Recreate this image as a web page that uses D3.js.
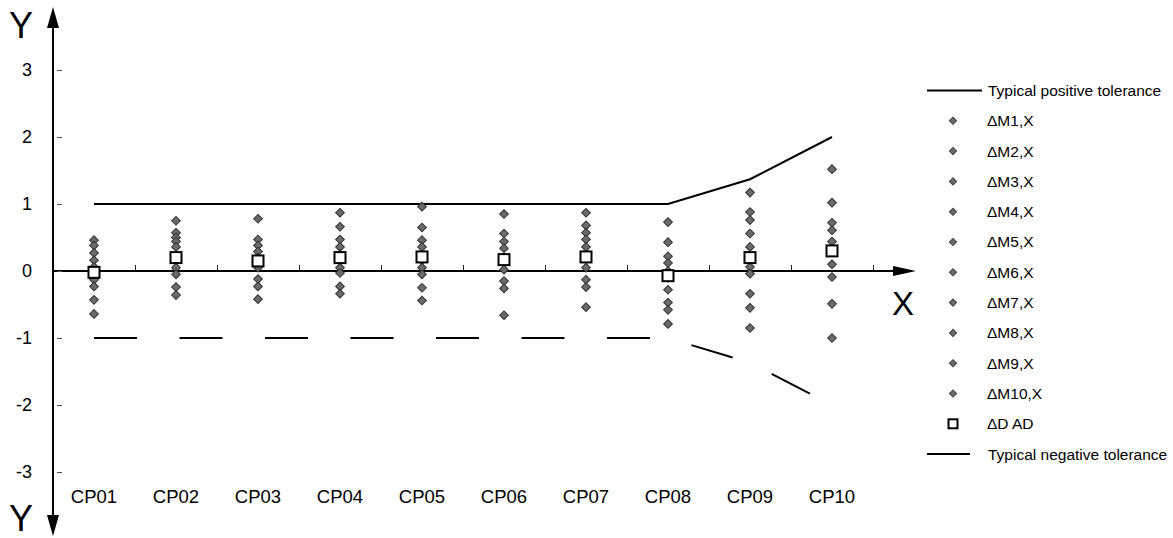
<!DOCTYPE html>
<html>
<head>
<meta charset="utf-8">
<script src="https://cdn.jsdelivr.net/npm/d3@7"></script>
<style>
  html, body { margin: 0; padding: 0; background: #fff; }
  svg { display: block; font-family: "Liberation Sans", Arial, sans-serif; }
</style>
</head>
<body>
<svg id="chart" width="1173" height="538"></svg>
<script>
// ---- data ----
const categories = ["CP01","CP02","CP03","CP04","CP05","CP06","CP07","CP08","CP09","CP10"];

// deviations of the ten measurements per control point (one array per series)
const dM1  = [ 0.46,  0.75,  0.78,  0.87,  0.96,  0.85,  0.87,  0.73,  1.17,  1.52];
const dM2  = [ 0.38,  0.57,  0.47,  0.66,  0.65,  0.56,  0.68,  0.43,  0.88,  1.02];
const dM3  = [ 0.27,  0.50,  0.38,  0.47,  0.46,  0.44,  0.57,  0.22,  0.76,  0.72];
const dM4  = [ 0.16,  0.44,  0.29,  0.36,  0.36,  0.34,  0.47,  0.12,  0.56,  0.61];
const dM5  = [ 0.06,  0.36,  0.20,  0.25,  0.24,  0.20,  0.36,  0.00,  0.36,  0.44];
const dM6  = [-0.10,  0.20,  0.12,  0.15,  0.16,  0.12,  0.20, -0.10,  0.06,  0.30];
const dM7  = [-0.13,  0.05,  0.05,  0.05,  0.05,  0.02,  0.05, -0.28, -0.04,  0.10];
const dM8  = [-0.23, -0.05, -0.12, -0.03, -0.05, -0.15, -0.13, -0.47, -0.34, -0.09];
const dM9  = [-0.43, -0.24, -0.23, -0.23, -0.25, -0.26, -0.24, -0.58, -0.55, -0.49];
const dM10 = [-0.64, -0.36, -0.42, -0.34, -0.44, -0.66, -0.54, -0.79, -0.85, -1.00];

// average deviation per control point
const dAD  = [-0.02,  0.20,  0.15,  0.20,  0.21,  0.17,  0.21, -0.07,  0.20,  0.30];

// tolerance band
const posTol = [1, 1, 1, 1, 1, 1, 1, 1, 1.37, 2.0];
const negTol = [-1, -1, -1, -1, -1, -1, -1, -1, -1.37, -2.0];

const yTicks = [-3, -2, -1, 0, 1, 2, 3];

const seriesNames = ["\u0394M1,X","\u0394M2,X","\u0394M3,X","\u0394M4,X","\u0394M5,X",
                     "\u0394M6,X","\u0394M7,X","\u0394M8,X","\u0394M9,X","\u0394M10,X"];
const measSeries = [dM1, dM2, dM3, dM4, dM5, dM6, dM7, dM8, dM9, dM10];

// ---- layout ----
const svg = d3.select("#chart");
const axisX = 53;      // position of the vertical axis
const plotRight = 873; // end of the last category band

const x = d3.scaleBand().domain(categories).range([axisX, plotRight]).paddingInner(0).paddingOuter(0);
const y = d3.scaleLinear().domain([-3, 3]).range([472, 70]);
const cx = c => x(c) + x.bandwidth() / 2;

// ---- axes ----
// category separators on the zero line
const xBound = d3.scaleLinear().domain([0, categories.length]).range([axisX, plotRight]);
svg.append("g")
  .attr("transform", `translate(0,${y(0)})`)
  .call(d3.axisTop(xBound).tickValues(d3.range(1, categories.length + 1)).tickSize(6).tickFormat(""))
  .call(g => g.select(".domain").remove())
  .call(g => g.selectAll(".tick line").attr("stroke", "#222").attr("stroke-width", 1));

// zero line with arrow
svg.append("line")
  .attr("x1", axisX).attr("x2", 895).attr("y1", y(0)).attr("y2", y(0))
  .attr("stroke", "#000").attr("stroke-width", 2);
svg.append("path")
  .attr("d", `M916,${y(0)} L893,${y(0) - 5} L893,${y(0) + 5} Z`)
  .attr("fill", "#000");

// category labels
svg.append("g")
  .attr("transform", `translate(0,490)`)
  .call(d3.axisBottom(x).tickSize(0).tickPadding(0))
  .call(g => g.select(".domain").remove())
  .call(g => g.selectAll("text")
      .attr("font-family", "Liberation Sans, Arial, sans-serif")
      .attr("font-size", 18.5).attr("fill", "#000").attr("dy", "0.71em"));

// vertical axis with arrows at both ends
svg.append("line")
  .attr("x1", axisX).attr("x2", axisX).attr("y1", 25).attr("y2", 518)
  .attr("stroke", "#000").attr("stroke-width", 2);
svg.append("path").attr("d", `M${axisX},7 L${axisX - 6},28 L${axisX + 6},28 Z`).attr("fill", "#000");
svg.append("path").attr("d", `M${axisX},536 L${axisX - 6},515 L${axisX + 6},515 Z`).attr("fill", "#000");

// small tick dashes to the right of the axis
svg.append("g")
  .attr("transform", `translate(${axisX + 4},0)`)
  .call(d3.axisRight(y).tickValues(yTicks).tickSize(5).tickFormat(""))
  .call(g => g.select(".domain").remove())
  .call(g => g.selectAll(".tick line").attr("stroke", "#555").attr("stroke-width", 1));

// tick numbers (plain hyphen for negatives)
svg.append("g")
  .attr("transform", `translate(32,0)`)
  .call(d3.axisLeft(y).tickValues(yTicks).tickSize(0).tickPadding(0).tickFormat(d => String(d)))
  .call(g => g.select(".domain").remove())
  .call(g => g.selectAll("text")
      .attr("font-family", "Liberation Sans, Arial, sans-serif")
      .attr("font-size", 18).attr("fill", "#000"));

// axis names
svg.append("text").attr("x", 21).attr("y", 37.5).attr("text-anchor", "middle")
  .attr("font-size", 36).text("Y");
svg.append("text").attr("x", 21).attr("y", 531).attr("text-anchor", "middle")
  .attr("font-size", 36).text("Y");
svg.append("text").attr("x", 903).attr("y", 315).attr("text-anchor", "middle")
  .attr("font-size", 33).text("X");

// ---- tolerance lines ----
const tolLine = d3.line().x((d, i) => cx(categories[i])).y(d => y(d));
svg.append("path").datum(posTol)
  .attr("d", tolLine).attr("fill", "none")
  .attr("stroke", "#000").attr("stroke-width", 2);
svg.append("path").datum(negTol)
  .attr("d", tolLine).attr("fill", "none")
  .attr("stroke", "#000").attr("stroke-width", 2)
  .attr("stroke-dasharray", "43,42.5");

// ---- measurement markers ----
const diamondPath = d3.symbol().type(d3.symbolSquare).size(38)();

const pts = [];
measSeries.forEach((s, si) => s.forEach((v, i) => pts.push({ s: si, c: categories[i], v })));

svg.append("g").selectAll("path")
  .data(pts)
  .join("path")
  .attr("d", diamondPath)
  .attr("transform", d => `translate(${cx(d.c)},${y(d.v)}) rotate(45)`)
  .attr("fill", "#6a6a6a").attr("stroke", "#333").attr("stroke-width", 1);

// average markers
svg.append("g").selectAll("rect")
  .data(dAD.map((v, i) => ({ c: categories[i], v })))
  .join("rect")
  .attr("x", d => cx(d.c) - 5.5).attr("y", d => y(d.v) - 5.5)
  .attr("width", 11).attr("height", 11)
  .attr("fill", "#fff").attr("stroke", "#000").attr("stroke-width", 2);

// ---- legend ----
const legend = svg.append("g")
  .attr("font-family", "Liberation Sans, Arial, sans-serif")
  .attr("font-size", 15.5);
const rowY = i => 90.5 + i * 30.3;

legend.append("line").attr("x1", 927).attr("x2", 982).attr("y1", rowY(0)).attr("y2", rowY(0))
  .attr("stroke", "#000").attr("stroke-width", 2);
legend.append("text").attr("x", 988).attr("y", rowY(0)).attr("dy", "0.35em")
  .text("Typical positive tolerance");

const legPath = d3.symbol().type(d3.symbolSquare).size(26)();
seriesNames.forEach((name, i) => {
  legend.append("path").attr("d", legPath)
    .attr("transform", `translate(953,${rowY(i + 1)}) rotate(45)`)
    .attr("fill", "#6a6a6a").attr("stroke", "#444").attr("stroke-width", 1);
  legend.append("text").attr("x", 987).attr("y", rowY(i + 1)).attr("dy", "0.35em").text(name);
});

legend.append("rect").attr("x", 948.5).attr("y", rowY(11) - 4.5).attr("width", 9).attr("height", 9)
  .attr("fill", "#fff").attr("stroke", "#000").attr("stroke-width", 2);
legend.append("text").attr("x", 987).attr("y", rowY(11)).attr("dy", "0.35em").text("\u0394D AD");

legend.append("line").attr("x1", 927).attr("x2", 970).attr("y1", rowY(12)).attr("y2", rowY(12))
  .attr("stroke", "#000").attr("stroke-width", 2);
legend.append("text").attr("x", 988).attr("y", rowY(12)).attr("dy", "0.35em")
  .text("Typical negative tolerance");
</script>
</body>
</html>
